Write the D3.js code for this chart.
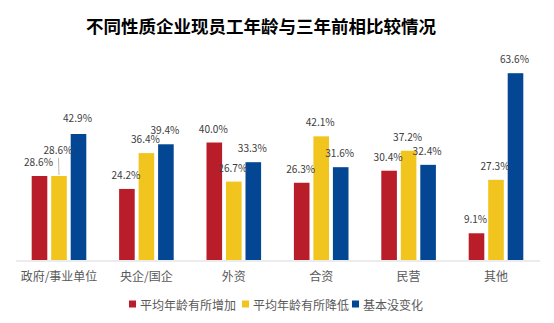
<!DOCTYPE html>
<html><head><meta charset="utf-8">
<script src="https://cdn.jsdelivr.net/npm/d3@7/dist/d3.min.js"></script>
<style>
body{margin:0;background:#fff;}
text{font-family:"Noto Sans CJK SC","Microsoft YaHei",sans-serif;}
</style></head>
<body><svg id="chart" width="554" height="323"></svg>
<script>
const title = "不同性质企业现员工年龄与三年前相比较情况";
const categories = ["政府/事业单位","央企/国企","外资","合资","民营","其他"];
const seriesNames = ["平均年龄有所增加","平均年龄有所降低","基本没变化"];
const increased = [28.6, 24.2, 40.0, 26.3, 30.4, 9.1];
const decreased = [28.6, 36.4, 26.7, 42.1, 37.2, 27.3];
const unchanged = [42.9, 39.4, 33.3, 31.6, 32.4, 63.6];
const colors = ["#B81D29","#F1C51E","#034693"];
// label nudges (style only): [categoryIndex, seriesIndex, dy]
const labelNudges = [[0,1,-12],[0,2,-2]];

const seriesValues = [increased, decreased, unchanged];
const svg = d3.select("#chart");

const baseY = 260;
const x0 = d3.scaleBand().domain(categories).range([15.3, 539.7]).paddingInner(0).paddingOuter(0);
const x1 = d3.scaleBand().domain(seriesNames).range([-27.3, 27.3]).paddingInner(0.2).paddingOuter(0);
const y = d3.scaleLinear().domain([0, 70]).range([baseY, baseY - 70*2.937]);

svg.append("text").attr("x", 261).attr("y", 25).attr("text-anchor","middle")
  .attr("dominant-baseline","central").attr("font-size","17.5px").attr("font-weight","bold")
  .attr("fill","#000").text(title);

const data = [];
categories.forEach((c,i)=>seriesNames.forEach((s,j)=>data.push({c,s,i,j,v:seriesValues[j][i]})));

svg.append("g").selectAll("rect").data(data).join("rect")
  .attr("x", d=>x0(d.c)+x0.bandwidth()/2+x1(d.s))
  .attr("width", x1.bandwidth())
  .attr("y", d=>y(d.v))
  .attr("height", d=>y(0)-y(d.v))
  .attr("fill", d=>colors[d.j]);

// axis
const axis = d3.axisBottom(x0).tickSize(0).tickPadding(0);
const ag = svg.append("g").attr("transform",`translate(0,${baseY+0.5})`).call(axis);
ag.select(".domain").attr("stroke","#D9D9D9").attr("stroke-width",1.2);
ag.selectAll(".tick text").attr("font-size","12px").attr("fill","#595959")
  .attr("y", 16).attr("dy","0.35em")
  .attr("font-family",'"Noto Sans CJK SC",sans-serif');

// labels
const nudge = d => { const n = labelNudges.find(a=>a[0]===d.i&&a[1]===d.j); return n?n[2]:0; };
const lg = svg.append("g");
data.forEach(d=>{
  const cx = x0(d.c)+x0.bandwidth()/2+x1(d.s)+x1.bandwidth()/2;
  const ly = y(d.v)-15+nudge(d);
  const txt = d3.format(".1f")(d.v)+"%";
  lg.append("text").attr("x",cx-1).attr("y",ly).attr("text-anchor","middle")
    .attr("dominant-baseline","central").attr("font-size","11px").attr("fill","#404040")
    .attr("font-family",'"Liberation Sans",Arial,sans-serif')
    .attr("textLength", txt.length*5.8).attr("lengthAdjust","spacingAndGlyphs")
    .text(txt);
  if (nudge(d) < -5) {
    lg.append("line").attr("x1",cx-0.5).attr("x2",cx).attr("y1",ly+9).attr("y2",y(d.v)-1)
      .attr("stroke","#A6A6A6").attr("stroke-width",0.8);
  }
});

// legend
const legendItems = [{x:129},{x:242},{x:352}];
const leg = svg.append("g");
seriesNames.forEach((s,j)=>{
  const g = leg.append("g").attr("transform",`translate(${legendItems[j].x},304)`);
  g.append("rect").attr("x",0).attr("y",-3.5).attr("width",7).attr("height",7).attr("fill",colors[j]);
  g.append("text").attr("x",11).attr("y",0).attr("dominant-baseline","central")
    .attr("font-size","12px").attr("fill","#595959").text(s);
});
</script></body></html>
